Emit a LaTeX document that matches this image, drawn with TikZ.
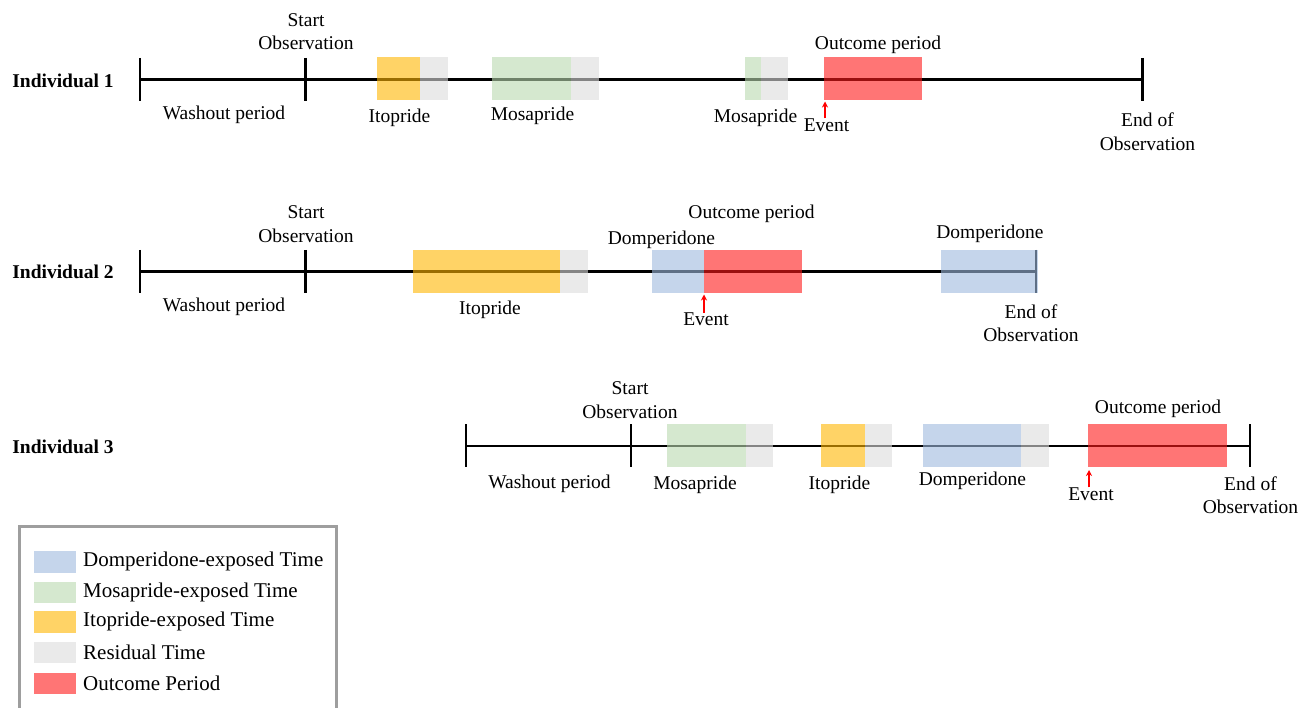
\documentclass[tikz,border=0pt]{standalone}
\usepackage{fontspec}
\setmainfont{Liberation Serif}
\usetikzlibrary{arrows.meta}
\definecolor{cdom}{HTML}{9EB9DE}
\definecolor{cmos}{HTML}{B9D9AF}
\definecolor{citp}{HTML}{FFB500}
\definecolor{cres}{HTML}{DCDCDC}
\definecolor{cout}{HTML}{FF1919}
\definecolor{cframe}{HTML}{9E9E9E}
\begin{document}
\begin{tikzpicture}[x=1pt,y=-1pt,
  every node/.style={inner sep=0pt, font=\fontsize{19.5}{23.5}\selectfont},
  lbl/.style={align=center},
  ind/.style={font=\bfseries\fontsize{19.5}{23.5}\selectfont},
  leg/.style={anchor=west, font=\fontsize{21}{25}\selectfont},
  tl/.style={line width=2.9pt, black},
  dom/.style={fill=cdom, fill opacity=0.6},
  mos/.style={fill=cmos, fill opacity=0.6},
  itp/.style={fill=citp, fill opacity=0.6},
  res/.style={fill=cres, fill opacity=0.6},
  outc/.style={fill=cout, fill opacity=0.6},
  evarrow/.style={red, line width=1.4pt, -{Stealth[length=6pt,width=6pt]}},
  frame/.style={cframe, line width=3.5pt}
]
\useasboundingbox (0,0) rectangle (1302,708);

% ---------- Individual 1 ----------
\coordinate (a1) at (140,79.5);
\coordinate (b1) at (305.5,79.5);
\coordinate (c1) at (1142.5,79.5);
\draw[tl] (a1) -- (c1);
\foreach \p in {a1,b1,c1}{\draw[tl] ([yshift=21.5pt]\p) -- ([yshift=-21.5pt]\p);}
\fill[itp] (377,57.5) rectangle (420,100);
\fill[res] (420,57.5) rectangle (448,100);
\fill[mos] (492,57.5) rectangle (571,100);
\fill[res] (571,57.5) rectangle (599,100);
\fill[mos] (745,57.5) rectangle (761,100);
\fill[res] (761,57.5) rectangle (788,100);
\fill[outc] (824,57.5) rectangle (922,100);
\node[ind] (i1) at (63,80.5) {Individual 1};
\node[lbl] (s1) at (306,31.5) {Start\\Observation};
\node (w1) at (224,115) {Washout period};
\node (it1) at (399.5,118) {Itopride};
\node (m1) at (532.5,116) {Mosapride};
\node (m1b) at (755.5,118) {Mosapride};
\node (o1) at (878,44.5) {Outcome period};
\node[lbl] (en1) at (1147.5,131.5) {End of\\Observation};
\node (ev1) at (826.5,125) {Event};
\coordinate (e1) at (825,101.5);
\draw[evarrow] (e1 |- ev1.north) -- (e1);

% ---------- Individual 2 ----------
\coordinate (a2) at (140,271.5);
\coordinate (b2) at (305.5,271.5);
\coordinate (c2) at (1036,271.5);
\draw[tl] (a2) -- (c2);
\foreach \p in {a2,b2,c2}{\draw[tl] ([yshift=21.5pt]\p) -- ([yshift=-21.5pt]\p);}
\fill[itp] (413,250.5) rectangle (560,293);
\fill[res] (560,250.5) rectangle (588,293);
\fill[dom] (652,250.5) rectangle (704,293);
\fill[outc] (704,250.5) rectangle (802,293);
\fill[dom] (941,250.5) rectangle (1037.5,293);
\node[ind] (i2) at (63,272) {Individual 2};
\node[lbl] (s2) at (306,224) {Start\\Observation};
\node (w2) at (224,307) {Washout period};
\node (it2) at (490,310) {Itopride};
\node (d2) at (661.5,239.5) {Domperidone};
\node (o2) at (751.5,214) {Outcome period};
\node (d2b) at (990,234) {Domperidone};
\node[lbl] (en2) at (1031,323) {End of\\Observation};
\node (ev2) at (706,319.5) {Event};
\coordinate (e2) at (704,294.5);
\draw[evarrow] (e2 |- ev2.north) -- (e2);

% ---------- Individual 3 ----------
\coordinate (a3) at (466,446);
\coordinate (b3) at (631,446);
\coordinate (c3) at (1250,446);
\draw[tl] (a3) -- (c3);
\foreach \p in {a3,b3,c3}{\draw[tl] ([yshift=21.5pt]\p) -- ([yshift=-21.5pt]\p);}
\fill[mos] (667,424.5) rectangle (746,467.5);
\fill[res] (746,424.5) rectangle (773,467.5);
\fill[itp] (821,424.5) rectangle (865,467.5);
\fill[res] (865,424.5) rectangle (892,467.5);
\fill[dom] (923,424.5) rectangle (1021,467.5);
\fill[res] (1021,424.5) rectangle (1048.5,467.5);
\fill[outc] (1088,424.5) rectangle (1227,467.5);
\node[ind] (i3) at (63,447) {Individual 3};
\node[lbl] (s3) at (630,400) {Start\\Observation};
\node (w3) at (549.5,483.5) {Washout period};
\node (mo3) at (695,485) {Mosapride};
\node (it3) at (839.5,485) {Itopride};
\node (d3) at (972.5,481) {Domperidone};
\node (o3) at (1158,408.5) {Outcome period};
\node[lbl] (en3) at (1250.5,495) {End of\\Observation};
\node (ev3) at (1091,494) {Event};
\coordinate (e3) at (1089,470);
\draw[evarrow] (e3 |- ev3.north) -- (e3);

% ---------- Legend ----------
\draw[frame] (19.5,712) -- (19.5,526.5) -- (336.5,526.5) -- (336.5,712);
\fill[dom] (33.5,551) rectangle (75.5,572.5);
\fill[mos] (33.5,581.5) rectangle (75.5,603);
\fill[itp] (33.5,611) rectangle (75.5,632.5);
\fill[res] (33.5,641.5) rectangle (75.5,663);
\fill[outc] (33.5,672.5) rectangle (75.5,694);
\node[leg] (l1) at (83,561.5) {Domperidone-exposed Time};
\node[leg] (l2) at (83,592) {Mosapride-exposed Time};
\node[leg] (l3) at (83,621.5) {Itopride-exposed Time};
\node[leg] (l4) at (83,652.5) {Residual Time};
\node[leg] (l5) at (83,683.5) {Outcome Period};
\end{tikzpicture}
\end{document}
